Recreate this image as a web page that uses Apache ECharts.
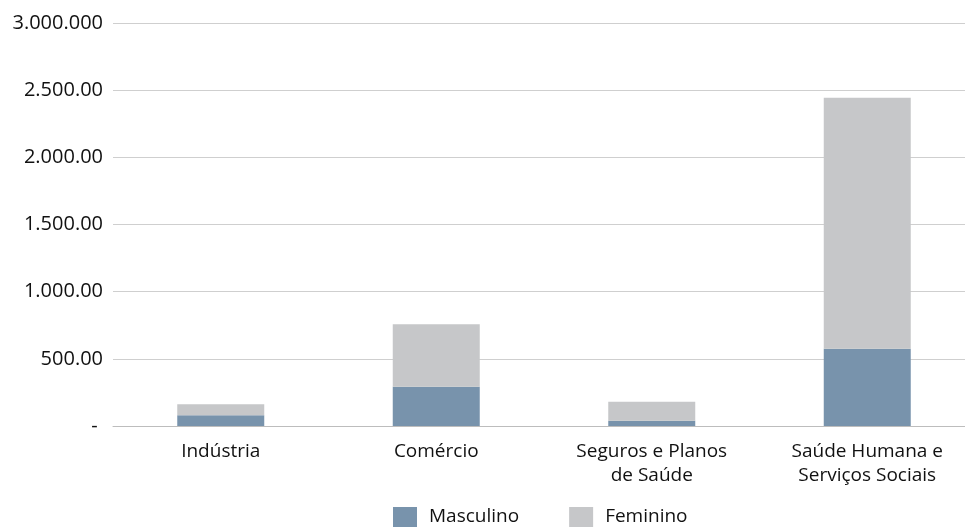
<!DOCTYPE html>
<html>
<head>
<meta charset="utf-8">
<script src="https://cdn.jsdelivr.net/npm/echarts@6/dist/echarts.min.js"></script>
<style>
  html, body { margin: 0; padding: 0; background: #fff; overflow: hidden; }
  /* canvas is a little wider than the window so the plot runs off the right edge */
  #chart { width: 980px; height: 527px; }
</style>
</head>
<body>
<div id="chart"></div>
<script>
// Categories (sectors) and values by sex
const categories = ['Indústria', 'Comércio', 'Seguros e Planos\nde Saúde', 'Saúde Humana e\nServiços Sociais'];
const masculino = [80, 293, 40, 575];
const feminino = [81, 464, 141, 1868];
// Y axis tick labels, as printed on the axis (from 0 up to 3000)
const tickLabels = ['- ', '500.00', '1.000.00', '1.500.00', '2.000.00', '2.500.00', '3.000.000'];

const FONT = '"Open Sans", "Noto Sans", sans-serif';

const chart = echarts.init(document.getElementById('chart'));
chart.setOption({
  animation: false,
  textStyle: { fontFamily: FONT },
  grid: { left: 113, top: 23, width: 862, height: 403, containLabel: false },
  legend: {
    top: 507,
    left: 393,
    padding: 0,
    itemWidth: 24,
    itemHeight: 20,
    itemGap: 50,
    icon: 'rect',
    textStyle: { fontFamily: FONT, fontSize: 19, color: '#111', padding: [0, 0, 0, 7] },
    data: ['Masculino', 'Feminino']
  },
  xAxis: {
    type: 'category',
    data: categories,
    axisTick: { show: false },
    axisLine: { lineStyle: { color: '#bdbdbd', width: 1 } },
    axisLabel: { fontFamily: FONT, fontSize: 19, color: '#111', margin: 14, lineHeight: 24, interval: 0 }
  },
  yAxis: {
    type: 'value',
    min: 0,
    max: 3000,
    interval: 500,
    axisLine: { show: false },
    axisTick: { show: false },
    splitLine: { lineStyle: { color: '#cfcfcf', width: 1 } },
    axisLabel: {
      fontFamily: FONT, fontSize: 20, color: '#111', margin: 10,
      formatter: function (v) { return tickLabels[Math.round(v / 500)]; }
    }
  },
  series: [
    {
      name: 'Masculino', type: 'bar', stack: 'total', data: masculino,
      barWidth: 87, itemStyle: { color: '#7893ac' }
    },
    {
      name: 'Feminino', type: 'bar', stack: 'total', data: feminino,
      barWidth: 87, itemStyle: { color: '#c6c7c9' }
    }
  ]
});
</script>
</body>
</html>
